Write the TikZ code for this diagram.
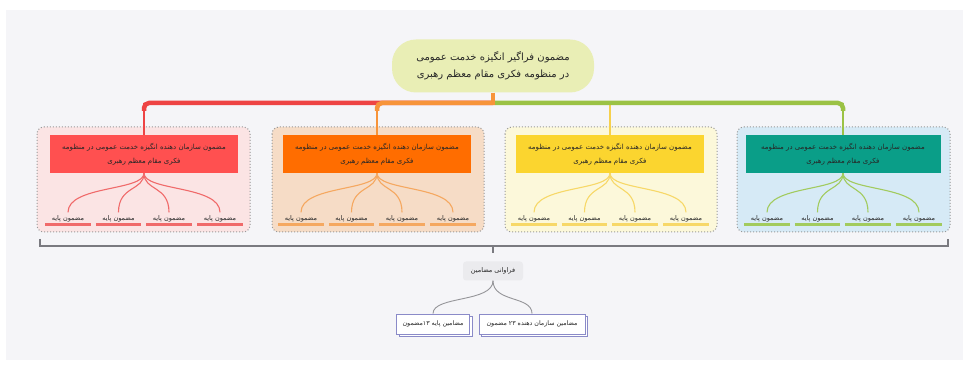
\documentclass[tikz,border=0pt]{standalone}
\usepackage{fontspec}
\newfontfamily\arabicfont[Script=Arabic]{DejaVu Sans}
\TeXXeTstate=1
\newcommand\fa[1]{\beginR #1\endR}
\usetikzlibrary{shadows}
\definecolor{bggray}{HTML}{F5F5F8}
\definecolor{rootfill}{HTML}{E9EEB5}
\definecolor{txt}{HTML}{262626}
\definecolor{redbar}{HTML}{EE4444}
\definecolor{redbox}{HTML}{FF5050}
\definecolor{redbg}{HTML}{FBE4E4}
\definecolor{redln}{HTML}{F06A6A}
\definecolor{orbar}{HTML}{F7943A}
\definecolor{orbox}{HTML}{FF6D00}
\definecolor{orbg}{HTML}{F6DCC6}
\definecolor{orln}{HTML}{F5A860}
\definecolor{yebar}{HTML}{F6D04D}
\definecolor{yebox}{HTML}{FBD52F}
\definecolor{yebg}{HTML}{FCF8DA}
\definecolor{yeln}{HTML}{F7D868}
\definecolor{grbar}{HTML}{9BC245}
\definecolor{tebox}{HTML}{0A9E88}
\definecolor{tebg}{HTML}{D6EAF6}
\definecolor{grln}{HTML}{A2CB5E}
\definecolor{brk}{HTML}{7A7A80}
\definecolor{freqfill}{HTML}{EBEBEE}
\definecolor{sumln}{HTML}{8A8AC8}
\tikzset{
  rootnode/.style={fill=rootfill, rounded corners=24pt, minimum width=202pt, minimum height=53pt,
    align=center, text=txt, font=\arabicfont\fontsize{10}{17}\selectfont},
  groupbg/.style={draw=gray!80, dotted, line width=1pt, rounded corners=7pt},
  mainbox/.style={minimum width=188pt, minimum height=38pt, align=center, text=txt,
    inner sep=2pt, font=\arabicfont\fontsize{7}{14}\selectfont},
  leaf/.style={minimum width=45pt, minimum height=12pt, inner sep=1pt, text=txt,
    font=\arabicfont\fontsize{6.5}{7}\selectfont},
  under/.style={line width=2.5pt},
  branch/.style={line width=1.1pt},
  hbar/.style={line width=4.5pt, rounded corners=5pt},
  drop/.style={line width=1.4pt},
  bracketln/.style={draw=brk, line width=1.3pt},
  freqnode/.style={fill=freqfill, rounded corners=3pt, minimum width=60pt, minimum height=19pt,
    text=txt, font=\arabicfont\fontsize{6.5}{7}\selectfont},
  sumnode/.style={draw=sumln, fill=white, line width=0.8pt, minimum height=20pt, inner sep=3pt,
    text=txt, font=\arabicfont\fontsize{6.3}{7}\selectfont,
    copy shadow={shadow xshift=2.5pt, shadow yshift=-2.5pt}},
  sumcurve/.style={draw=brk!80, line width=0.9pt},
}
\begin{document}
\begin{tikzpicture}[x=1pt,y=-1pt]
\useasboundingbox (0,0) rectangle (970,366);
\fill[white] (0,0) rectangle (970,366);
\fill[bggray] (6,10) rectangle (963,360);

% group backgrounds
\draw[groupbg, fill=redbg] (37,127) rectangle (250,232);
\draw[groupbg, fill=orbg] (272,127) rectangle (484,232);
\draw[groupbg, fill=yebg] (505,127) rectangle (717,232);
\draw[groupbg, fill=tebg] (737,127) rectangle (950,232);

% root
\node[rootnode] (root) at (493,66) {\fa{مضمون فراگیر انگیزه خدمت عمومی}\\\fa{در منظومه فکری مقام معظم رهبری}};
\coordinate (hub) at (493,103);

% main boxes
\node[mainbox, fill=redbox] (b1) at (144,154) {\fa{مضمون سازمان دهنده انگیزه خدمت عمومی در منظومه}\\\fa{فکری مقام معظم رهبری}};
\node[mainbox, fill=orbox] (b2) at (377,154) {\fa{مضمون سازمان دهنده انگیزه خدمت عمومی در منظومه}\\\fa{فکری مقام معظم رهبری}};
\node[mainbox, fill=yebox] (b3) at (610,154) {\fa{مضمون سازمان دهنده انگیزه خدمت عمومی در منظومه}\\\fa{فکری مقام معظم رهبری}};
\node[mainbox, fill=tebox, minimum width=195pt] (b4) at (843,154) {\fa{مضمون سازمان دهنده انگیزه خدمت عمومی در منظومه}\\\fa{فکری مقام معظم رهبری}};

% connectors root -> boxes
\draw[drop, redbar] (hub -| b1.north) -- (b1.north);
\draw[drop, orbar] (hub -| b2.north) -- (b2.north);
\draw[drop, yebar] (hub -| b3.north) -- (b3.north);
\draw[drop, grbar] (hub -| b4.north) -- (b4.north);
\draw[hbar, redbar] (hub) -| ([yshift=-8pt]hub -| b1.north);
\draw[hbar, orbar] ([xshift=2pt]hub) -| ([yshift=-8pt]hub -| b2.north);
\draw[hbar, grbar] ([xshift=2pt]hub) -| ([yshift=-8pt]hub -| b4.north);
\draw[line width=4pt, orbar] (root.south) -- ([yshift=2pt]hub);

% leaves
\foreach \g/\cx/\lc in {1/144/redln, 2/377/orln, 3/610/yeln, 4/843/grln}{
  \foreach \i/\dx in {1/-76, 2/-25.5, 3/25, 4/76}{
    \node[leaf] (l\g\i) at (\cx+\dx,218.5) {\fa{مضمون پایه}};
    \draw[under, \lc] (l\g\i.south west) -- (l\g\i.south east);
    \draw[branch, \lc] (b\g.south) .. controls +(0,18) and +(0,-27) .. (l\g\i.north);
  }
}

% bracket
\coordinate (bl) at (40,239);
\coordinate (br) at (948,239);
\coordinate (bm) at (493,246);
\coordinate (bt) at (493,253);
\draw[bracketln] (bl) |- (bm) -| (br);
\draw[bracketln] (bm) -- (bt);

% frequency
\node[freqnode] (freq) at (493,271) {\fa{فراوانی مضامین}};
\node[sumnode, minimum width=73pt] (s1) at (433,324) {\fa{مضامین پایه ۱۳مضمون}};
\node[sumnode, minimum width=106pt] (s2) at (532,324) {\fa{مضامین سازمان دهنده ۲۳ مضمون}};
\draw[sumcurve] (freq.south) .. controls +(0,22) and +(0,-18) .. (s1.north);
\draw[sumcurve] (freq.south) .. controls +(0,22) and +(0,-18) .. (s2.north);
\end{tikzpicture}
\end{document}
